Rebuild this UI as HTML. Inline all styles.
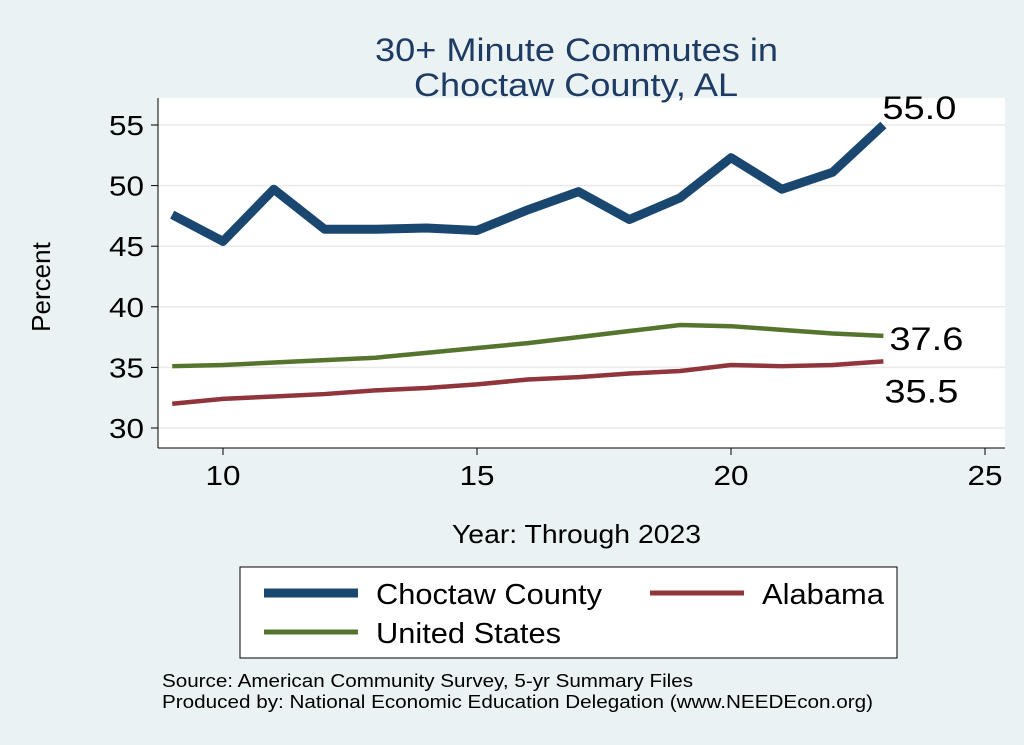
<!DOCTYPE html>
<html><head><meta charset="utf-8"><style>
body{margin:0;background:#eaf2f3;}
svg{display:block;font-family:"Liberation Sans",Arial,sans-serif;}
</style></head><body>
<svg id="c" width="1024" height="745">
<rect x="0" y="0" width="1024" height="745" fill="#eaf2f3"/>
<rect x="158" y="98" width="847" height="350" fill="#fff"/>
<text x="375" y="61" font-size="32" textLength="403" lengthAdjust="spacingAndGlyphs" fill="#1e3b64">30+ Minute Commutes in</text>
<text x="414" y="96" font-size="32" textLength="324" lengthAdjust="spacingAndGlyphs" fill="#1e3b64">Choctaw County, AL</text>
<g id="grid"></g><g id="axes"></g><g id="series"></g>
<text x="50" y="287" font-size="26" text-anchor="middle" transform="rotate(-90 50 287)">Percent</text>
<text x="452" y="543" font-size="26" textLength="249" lengthAdjust="spacingAndGlyphs">Year: Through 2023</text>
<g>
<rect x="240" y="567" width="657" height="91" fill="#fff" stroke="#000" stroke-width="1"/>
<line x1="264" y1="593" x2="358" y2="593" stroke="#1a476f" stroke-width="9"/>
<text x="376" y="604" font-size="29" textLength="226" lengthAdjust="spacingAndGlyphs">Choctaw County</text>
<line x1="650" y1="593" x2="744" y2="593" stroke="#90353b" stroke-width="5"/>
<text x="762" y="604" font-size="29" textLength="122" lengthAdjust="spacingAndGlyphs">Alabama</text>
<line x1="264" y1="632" x2="358" y2="632" stroke="#55752f" stroke-width="5"/>
<text x="376" y="643" font-size="29" textLength="185" lengthAdjust="spacingAndGlyphs">United States</text>
</g>
<text x="162" y="687" font-size="18" textLength="531" lengthAdjust="spacingAndGlyphs">Source: American Community Survey, 5-yr Summary Files</text>
<text x="162" y="708" font-size="18" textLength="711" lengthAdjust="spacingAndGlyphs">Produced by: National Economic Education Delegation (www.NEEDEcon.org)</text>
</svg>
<script>
const years=[9,10,11,12,13,14,15,16,17,18,19,20,21,22,23];
const choctaw=[47.6,45.4,49.7,46.4,46.4,46.5,46.3,48.0,49.5,47.2,49.0,52.3,49.7,51.1,55.0];
const unitedStates=[35.1,35.2,35.4,35.6,35.8,36.2,36.6,37.0,37.5,38.0,38.5,38.4,38.1,37.8,37.6];
const alabama=[32.0,32.4,32.6,32.8,33.1,33.3,33.6,34.0,34.2,34.5,34.7,35.2,35.1,35.2,35.5];
const yTicks=[30,35,40,45,50,55];
const xTicks=[10,15,20,25];
const NS='http://www.w3.org/2000/svg';
const X=v=>223+(v-10)*50.8, Y=v=>428-(v-30)*12.12;
function mk(tag,attrs,parent,text){const e=document.createElementNS(NS,tag);for(const k in attrs)e.setAttribute(k,attrs[k]);if(text!==undefined)e.textContent=text;document.getElementById(parent).appendChild(e);return e;}
yTicks.forEach(t=>{
 let g=mk('line',{x1:158,x2:1005,y1:Y(t),y2:Y(t),stroke:'#eaeaea','stroke-width':1.5},'grid');
 
 
 let k=mk('line',{x1:151,x2:158,y1:Y(t),y2:Y(t),stroke:'#000'},'axes');
 
 
 let l=mk('text',{x:144,y:Y(t)+10,'font-size':28,'text-anchor':'end',textLength:35,lengthAdjust:'spacingAndGlyphs'},'axes',t);
 
 
});
xTicks.forEach(t=>{
 let k=mk('line',{x1:X(t),x2:X(t),y1:448,y2:455,stroke:'#000'},'axes');
 
 
 let l=mk('text',{x:X(t),y:485,'font-size':28,'text-anchor':'middle',textLength:35,lengthAdjust:'spacingAndGlyphs'},'axes',t);
 
 
});
let ya=mk('line',{x1:158,x2:158,y1:98,y2:448,stroke:'#000'},'axes');


let xa=mk('line',{x1:158,x2:1005,y1:448,y2:448,stroke:'#000'},'axes');


function series(vals,color,w,name,dx,dy){
 const p=mk('polyline',{points:years.map((y,i)=>X(y)+','+Y(vals[i])).join(' '),fill:'none',stroke:color,'stroke-width':w,'stroke-linejoin':'round'},'series');
 
 
 const v=vals[vals.length-1];
 const t=mk('text',{x:X(years[years.length-1])+dx,y:Y(v)+dy,'font-size':32,textLength:74,lengthAdjust:'spacingAndGlyphs'},'series',v.toFixed(1));
 
 
}
series(unitedStates,'#55752f',4.5,'united-states',6,14);
series(alabama,'#90353b',4.5,'alabama',1,41);
series(choctaw,'#1a476f',9,'choctaw-county',-1,-6);
</script>
</body></html>
